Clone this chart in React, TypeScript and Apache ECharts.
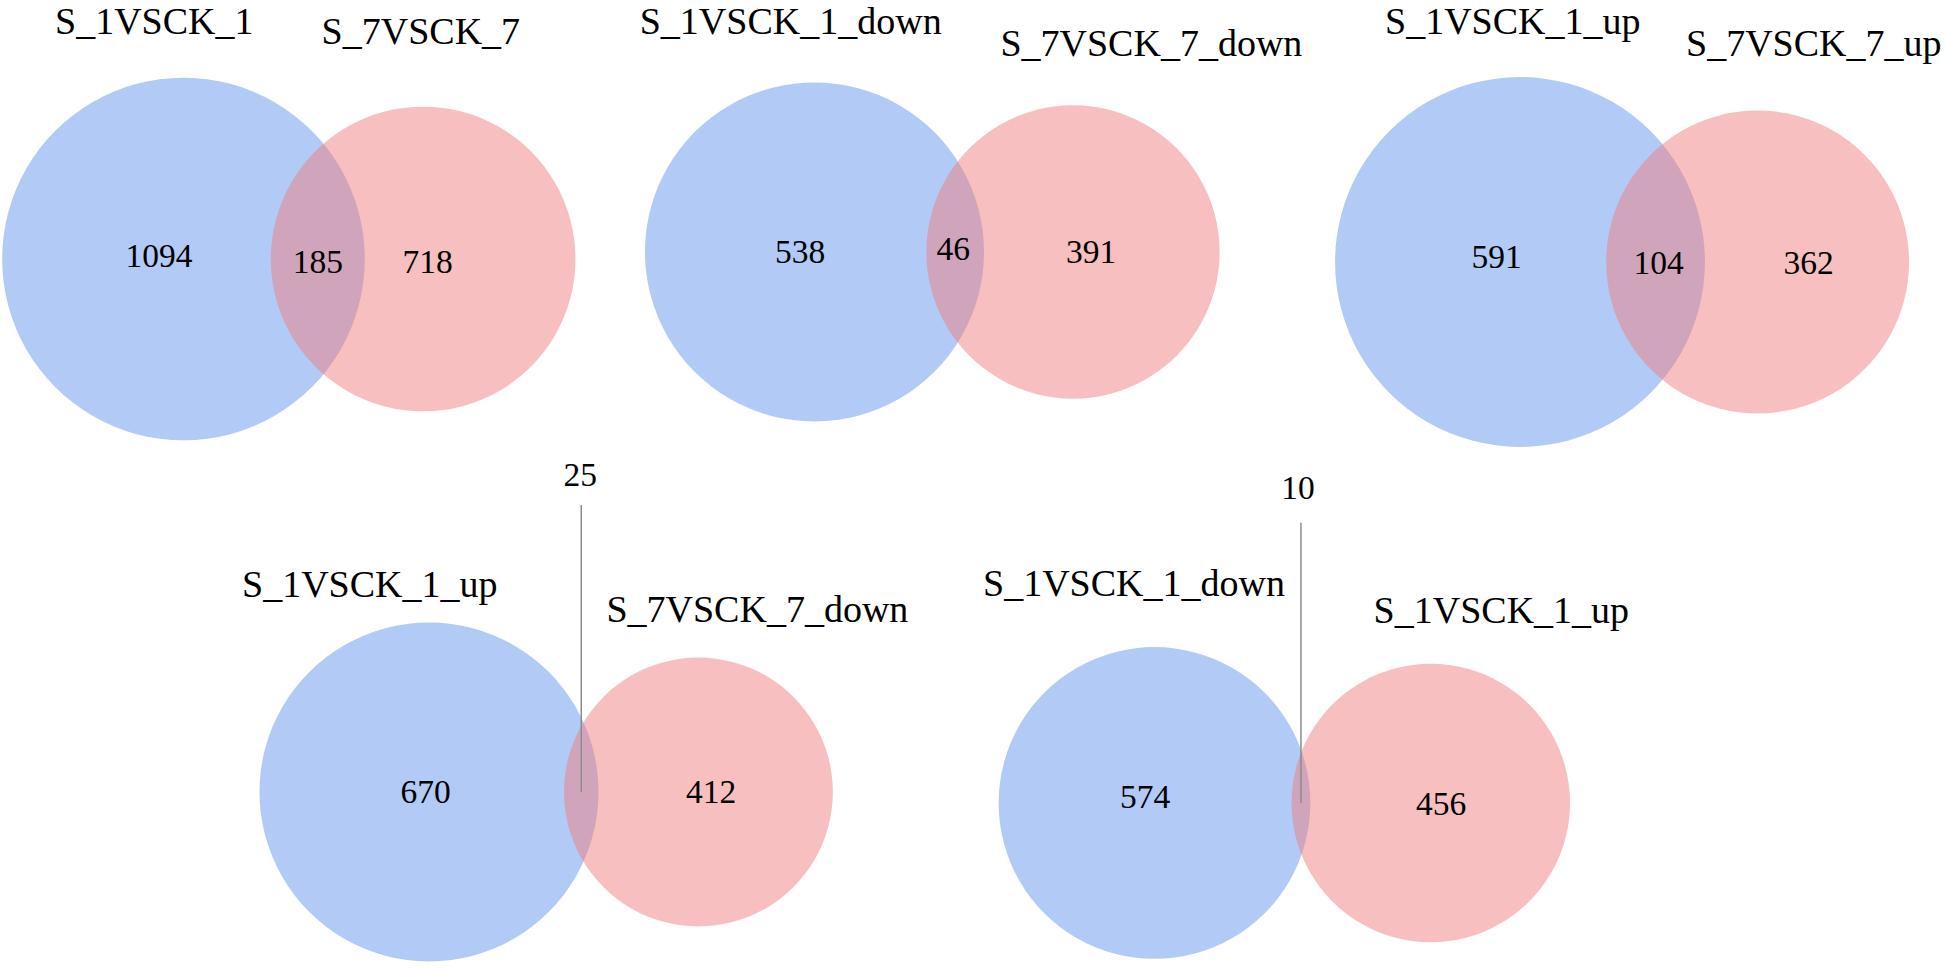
import React, { useEffect, useRef } from "react";
import * as echarts from "echarts";

// ---- data ----
const leftSets = ["S_1VSCK_1", "S_1VSCK_1_down", "S_1VSCK_1_up", "S_1VSCK_1_up", "S_1VSCK_1_down"];
const rightSets = ["S_7VSCK_7", "S_7VSCK_7_down", "S_7VSCK_7_up", "S_7VSCK_7_down", "S_1VSCK_1_up"];
const leftOnly = [1094, 538, 591, 670, 574];
const shared = [185, 46, 104, 25, 10];
const rightOnly = [718, 391, 362, 412, 456];

// ---- layout (pixels) ----
type Panel = {
  cx: number; cy: number; k: number;
  l1: [number, number]; l2: [number, number];
  n1: [number, number]; n2: [number, number]; ov: [number, number];
  callout?: { labelY: number; top: number; dx: number };
};
const panels: Panel[] = [
  { cx: 183.5, cy: 259, k: 5.07, l1: [55, 21], l2: [321.6, 31], n1: [-24.5, -4], n2: [4.5, 2], ov: [0, 2] },
  { cx: 814.5, cy: 252, k: 7.015, l1: [639.7, 21], l2: [1000.4, 43.3], n1: [-14.5, -1], n2: [18.2, -1], ov: [-2, -4] },
  { cx: 1520, cy: 262, k: 7.015, l1: [1385, 21], l2: [1686, 43.3], n1: [-23.4, -6], n2: [51, 0], ov: [3, 0] },
  { cx: 429, cy: 792, k: 6.43, l1: [242, 583.7], l2: [606.4, 609], n1: [-3.4, -1], n2: [12.6, -1], ov: [0, 0], callout: { labelY: 474, top: 505, dx: -1 } },
  { cx: 1154.5, cy: 803, k: 6.45, l1: [983, 583.3], l2: [1373.6, 610], n1: [-9.5, -7], n2: [10.4, 0], ov: [0, 0], callout: { labelY: 487, top: 522.7, dx: -3 } },
];

const W = 1946;
const H = 968;
const FONT = '"Liberation Serif", "Times New Roman", serif';
const BLUE = "rgba(100,149,237,0.5)";
const RED = "rgba(240,128,128,0.5)";

function lensArea(r1: number, r2: number, d: number) {
  if (d >= r1 + r2) return 0;
  if (d <= Math.abs(r1 - r2)) return Math.PI * Math.min(r1, r2) ** 2;
  const a = r1 * r1 * Math.acos((d * d + r1 * r1 - r2 * r2) / (2 * d * r1));
  const b = r2 * r2 * Math.acos((d * d + r2 * r2 - r1 * r1) / (2 * d * r2));
  const c = 0.5 * Math.sqrt((-d + r1 + r2) * (d + r1 - r2) * (d - r1 + r2) * (d + r1 + r2));
  return a + b - c;
}

function solveDistance(r1: number, r2: number, area: number) {
  let lo = Math.abs(r1 - r2) + 1e-6;
  let hi = r1 + r2;
  for (let i = 0; i < 100; i++) {
    const mid = (lo + hi) / 2;
    if (lensArea(r1, r2, mid) > area) lo = mid;
    else hi = mid;
  }
  return (lo + hi) / 2;
}

export default function App() {
  const ref = useRef<HTMLDivElement>(null);
  useEffect(() => {
    if (!ref.current) return;
    const chart = echarts.init(ref.current, undefined, { renderer: "svg" });

    const data = panels.map((p, i) => {
      const nA = leftOnly[i] + shared[i];
      const nB = rightOnly[i] + shared[i];
      const r1 = p.k * Math.sqrt(nA);
      const r2 = p.k * Math.sqrt(nB);
      const unit = (Math.PI * r1 * r1) / nA;
      const d = solveDistance(r1, r2, shared[i] * unit);
      return [p.cx, p.cy, r1, p.cx + d, r2, i];
    });

    const labelGraphics: any[] = [];
    panels.forEach((p, i) => {
      labelGraphics.push({
        type: "text", x: p.l1[0], y: p.l1[1], silent: true,
        style: { text: leftSets[i], fill: "#000", font: `38px ${FONT}`, textAlign: "left", textVerticalAlign: "middle" },
      });
      labelGraphics.push({
        type: "text", x: p.l2[0], y: p.l2[1], silent: true,
        style: { text: rightSets[i], fill: "#000", font: `38px ${FONT}`, textAlign: "left", textVerticalAlign: "middle" },
      });
    });

    chart.setOption({
      animation: false,
      backgroundColor: "#ffffff",
      grid: { left: 0, right: 0, top: 0, bottom: 0 },
      xAxis: { type: "value", min: 0, max: W, show: false },
      yAxis: { type: "value", min: 0, max: H, inverse: true, show: false },
      graphic: labelGraphics,
      series: [
        {
          type: "custom",
          coordinateSystem: "cartesian2d",
          data,
          silent: true,
          renderItem: (params: any, api: any) => {
            const i = api.value(5);
            const p = panels[i];
            const c1 = api.coord([api.value(0), api.value(1)]);
            const c2 = api.coord([api.value(3), api.value(1)]);
            const r1 = api.size([api.value(2), 0])[0];
            const r2 = api.size([api.value(4), 0])[0];
            const lensMid = ((c2[0] - r2) + (c1[0] + r1)) / 2;
            const numStyle = (text: string) => ({
              text,
              fill: "#000",
              font: `33.5px ${FONT}`,
              textAlign: "center",
              textVerticalAlign: "middle",
            });
            const children: any[] = [
              { type: "circle", shape: { cx: c1[0], cy: c1[1], r: r1 }, style: { fill: BLUE } },
              { type: "circle", shape: { cx: c2[0], cy: c2[1], r: r2 }, style: { fill: RED } },
              { type: "text", x: c1[0] + p.n1[0], y: c1[1] + p.n1[1], style: numStyle(String(leftOnly[i])) },
              { type: "text", x: c2[0] + p.n2[0], y: c2[1] + p.n2[1], style: numStyle(String(rightOnly[i])) },
            ];
            if (p.callout) {
              const top = api.coord([0, p.callout.top])[1];
              const ly = api.coord([0, p.callout.labelY])[1];
              children.push({
                type: "line",
                shape: { x1: lensMid, y1: top, x2: lensMid, y2: c1[1] },
                style: { stroke: "#8c8c8c", lineWidth: 1.5 },
              });
              children.push({ type: "text", x: lensMid + p.callout.dx, y: ly, style: numStyle(String(shared[i])) });
            } else {
              children.push({ type: "text", x: lensMid + p.ov[0], y: c1[1] + p.ov[1], style: numStyle(String(shared[i])) });
            }
            return { type: "group", children };
          },
        },
      ],
    });
    return () => chart.dispose();
  }, []);
  return (
    <div
      ref={ref}
      style={{ position: "fixed", left: 0, top: 0, width: W, height: H, background: "#fff" }}
    />
  );
}
